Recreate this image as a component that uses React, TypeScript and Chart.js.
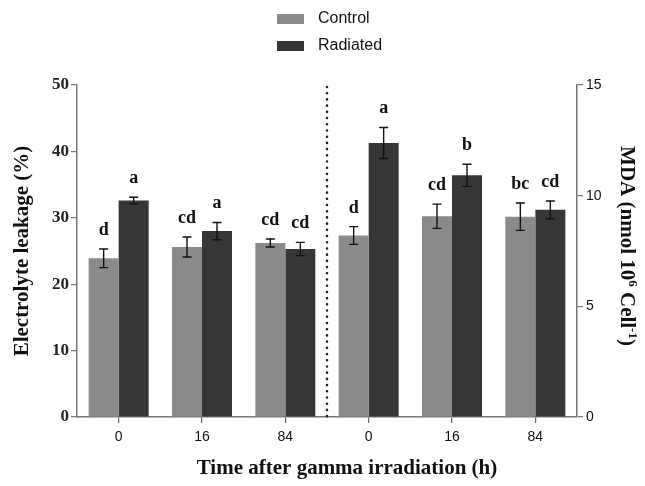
import React, { useEffect, useRef } from "react";
import { Chart, registerables } from "chart.js";

Chart.register(...registerables);

const categories = ["0", "16", "84", "0", "16", "84"];
const seriesNames = ["Control", "Radiated"];

// Electrolyte leakage (%) — first three time points (left axis)
const elControl = [23.9, 25.6, 26.2];
const elControlErr = [1.4, 1.5, 0.6];
const elRadiated = [32.6, 28.0, 25.3];
const elRadiatedErr = [0.5, 1.3, 1.0];

// MDA (nmol 10^6 Cell^-1) — last three time points (right axis)
const mdaControl = [8.2, 9.07, 9.05];
const mdaControlErr = [0.4, 0.55, 0.62];
const mdaRadiated = [12.38, 10.92, 9.36];
const mdaRadiatedErr = [0.7, 0.5, 0.4];

const controlLetters = ["d", "cd", "cd", "d", "cd", "bc"];
const radiatedLetters = ["a", "a", "cd", "a", "b", "cd"];

const yLeftTicks = [0, 10, 20, 30, 40, 50];
const yRightTicks = [0, 5, 10, 15];

const xTitle = "Time after gamma irradiation (h)";
const yLeftTitle = "Electrolyte leakage (%)";
// right title pieces: [text, superscript?]
const yRightTitle: [string, boolean][] = [
  ["MDA (nmol 10", false],
  ["6", true],
  [" Cell", false],
  ["-1", true],
  [")", false],
];

const CONTROL_COLOR = "#8a8a8a";
const RADIATED_COLOR = "#363636";

const nulls = [null, null, null];

export default function App() {
  const ref = useRef<HTMLCanvasElement | null>(null);

  useEffect(() => {
    if (!ref.current) return;

    const datasets: any[] = [
      {
        label: seriesNames[0],
        data: [...elControl, ...nulls],
        errs: [...elControlErr, ...nulls],
        letters: controlLetters,
        backgroundColor: CONTROL_COLOR,
        yAxisID: "y",
      },
      {
        label: seriesNames[1],
        data: [...elRadiated, ...nulls],
        errs: [...elRadiatedErr, ...nulls],
        letters: radiatedLetters,
        backgroundColor: RADIATED_COLOR,
        yAxisID: "y",
      },
      {
        label: seriesNames[0] + " (MDA)",
        data: [...nulls, ...mdaControl],
        errs: [...nulls, ...mdaControlErr],
        letters: controlLetters,
        backgroundColor: CONTROL_COLOR,
        yAxisID: "y1",
      },
      {
        label: seriesNames[1] + " (MDA)",
        data: [...nulls, ...mdaRadiated],
        errs: [...nulls, ...mdaRadiatedErr],
        letters: radiatedLetters,
        backgroundColor: RADIATED_COLOR,
        yAxisID: "y1",
      },
    ];

    const overlayPlugin = {
      id: "overlay",
      afterDatasetsDraw(chart: any) {
        const ctx = chart.ctx;
        const area = chart.chartArea;
        const xs = chart.scales.x;
        // dotted separator between the two groups
        const xSep = (xs.getPixelForValue(2) + xs.getPixelForValue(3)) / 2;
        ctx.save();
        ctx.strokeStyle = "#222";
        ctx.lineWidth = 2.6;
        ctx.lineCap = "round";
        ctx.setLineDash([0.01, 6.2]);
        ctx.beginPath();
        ctx.moveTo(xSep, area.top + 2);
        ctx.lineTo(xSep, area.bottom);
        ctx.stroke();
        ctx.restore();

        // error bars and letters
        chart.data.datasets.forEach((ds: any, di: number) => {
          const meta = chart.getDatasetMeta(di);
          const ys = chart.scales[ds.yAxisID];
          meta.data.forEach((bar: any, i: number) => {
            const v = ds.data[i];
            if (v === null || v === undefined) return;
            const e = ds.errs[i];
            const x = bar.x;
            const yTop = ys.getPixelForValue(v + e);
            const yBot = ys.getPixelForValue(v - e);
            const cap = 4.5;
            ctx.save();
            ctx.strokeStyle = "#111";
            ctx.lineWidth = 1.4;
            ctx.beginPath();
            ctx.moveTo(x, yTop);
            ctx.lineTo(x, yBot);
            ctx.moveTo(x - cap, yTop);
            ctx.lineTo(x + cap, yTop);
            ctx.moveTo(x - cap, yBot);
            ctx.lineTo(x + cap, yBot);
            ctx.stroke();
            ctx.fillStyle = "#111";
            ctx.font = "bold 18px 'Liberation Serif'";
            ctx.textAlign = "center";
            ctx.textBaseline = "alphabetic";
            ctx.fillText(ds.letters[i], x, yTop - 14);
            ctx.restore();
          });
        });

        // legend (stacked vertically)
        const legendItems = [
          { label: seriesNames[0], color: CONTROL_COLOR },
          { label: seriesNames[1], color: RADIATED_COLOR },
        ];
        ctx.save();
        legendItems.forEach((it, k) => {
          const cy = 19 + k * 27;
          ctx.fillStyle = it.color;
          ctx.fillRect(277, cy - 5, 27, 10);
          ctx.fillStyle = "#111";
          ctx.font = "16px 'Liberation Sans Narrow', 'Liberation Sans'";
          ctx.textAlign = "left";
          ctx.textBaseline = "middle";
          ctx.fillText(it.label, 318, cy);
        });
        ctx.restore();

        // x axis title (slightly right of centre, as in the original)
        ctx.save();
        ctx.fillStyle = "#111";
        ctx.font = "bold 21px 'Liberation Serif'";
        ctx.textAlign = "center";
        ctx.textBaseline = "middle";
        ctx.fillText(xTitle, 347, 469);
        ctx.restore();

        // right axis title with superscripts (rotated, reading downwards)
        const mainFont = "bold 21px 'Liberation Serif'";
        const supFont = "bold 13px 'Liberation Serif'";
        ctx.save();
        ctx.fillStyle = "#111";
        ctx.textBaseline = "alphabetic";
        ctx.textAlign = "left";
        let total = 0;
        yRightTitle.forEach(([t, sup]) => {
          ctx.font = sup ? supFont : mainFont;
          total += ctx.measureText(t).width;
        });
        ctx.translate(621, 246);
        ctx.rotate(Math.PI / 2);
        let cx = -total / 2;
        yRightTitle.forEach(([t, sup]) => {
          ctx.font = sup ? supFont : mainFont;
          ctx.fillText(t, cx, sup ? -8 : 0);
          cx += ctx.measureText(t).width;
        });
        ctx.restore();
      },
    };

    const chart = new Chart(ref.current, {
      type: "bar",
      data: { labels: categories, datasets },
      plugins: [overlayPlugin],
      options: {
        animation: false,
        responsive: false,
        skipNull: true,
        categoryPercentage: 0.72,
        barPercentage: 1,
        layout: { padding: { top: 85, left: 0, right: 0, bottom: 0 } },
        plugins: {
          legend: { display: false },
          tooltip: { enabled: false },
        },
        scales: {
          x: {
            grid: {
              display: true,
              offset: false,
              drawOnChartArea: false,
              drawTicks: true,
              tickLength: 6,
              color: "#666",
              lineWidth: 1.2,
            },
            border: { color: "#777", width: 1.5 },
            ticks: {
              color: "#111",
              font: { family: "'Liberation Sans'", size: 14 },
              padding: 6,
              maxRotation: 0,
            },
            afterFit(scale: any) {
              scale.height = 69;
            },
          },
          y: {
            position: "left",
            min: 0,
            max: 50,
            afterBuildTicks(scale: any) {
              scale.ticks = yLeftTicks.map((v) => ({ value: v }));
            },
            grid: {
              display: true,
              drawOnChartArea: false,
              tickLength: 6,
              color: "#777",
              lineWidth: 1.2,
            },
            border: { color: "#777", width: 1.5 },
            ticks: {
              color: "#222",
              font: { family: "'Liberation Serif'", size: 17, weight: "bold" },
              padding: 2,
            },
            title: {
              display: true,
              text: yLeftTitle,
              color: "#111",
              font: { family: "'Liberation Serif'", size: 21, weight: "bold" },
              padding: { top: 10, bottom: 6 },
            },
            afterFit(scale: any) {
              scale.width = 77;
            },
          },
          y1: {
            position: "right",
            min: 0,
            max: 15,
            afterBuildTicks(scale: any) {
              scale.ticks = yRightTicks.map((v) => ({ value: v }));
            },
            grid: {
              display: true,
              drawOnChartArea: false,
              tickLength: 6,
              color: "#777",
              lineWidth: 1.2,
            },
            border: { color: "#777", width: 1.5 },
            ticks: {
              color: "#111",
              font: { family: "'Liberation Sans'", size: 14 },
              padding: 3,
            },
            afterFit(scale: any) {
              scale.width = 68;
            },
          },
        },
      } as any,
    });

    return () => chart.destroy();
  }, []);

  return (
    <div
      style={{
        position: "fixed",
        left: 0,
        top: 0,
        width: 645,
        height: 486,
        background: "#fff",
      }}
    >
      <canvas ref={ref} width={645} height={486} />
    </div>
  );
}
